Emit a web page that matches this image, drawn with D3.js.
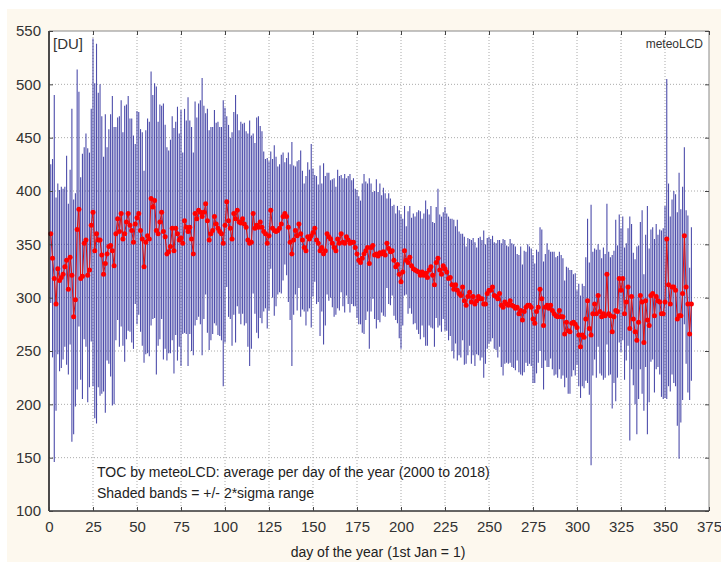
<!DOCTYPE html>
<html>
<head>
<meta charset="utf-8">
<script src="https://cdn.jsdelivr.net/npm/d3@7"></script>
<style>
  body { margin: 0; background: #fff; }
  svg { display: block; font-family: "Liberation Sans", Arial, sans-serif; }
</style>
</head>
<body>
<div id="chart"></div>
<script>
// Mean total ozone column per day of the year [DU], days 1..365
const meanTOC = [
  360, 337, 318, 294, 327, 316, 319, 322, 329, 335,
  308, 338, 321, 282, 298, 364, 383, 318, 320, 351,
  354, 321, 326, 368, 380, 344, 360, 354, 354, 340,
  322, 332, 341, 348, 349, 344, 330, 360, 374, 362,
  379, 355, 360, 371, 379, 368, 363, 352, 369, 375,
  379, 363, 355, 329, 352, 358, 355, 393, 385, 391,
  363, 360, 371, 380, 362, 357, 341, 343, 348, 365,
  344, 365, 360, 354, 356, 351, 372, 366, 362, 366,
  355, 341, 379, 374, 382, 380, 376, 380, 388, 372,
  354, 360, 363, 376, 369, 365, 362, 360, 351, 368,
  390, 372, 365, 355, 379, 374, 382, 371, 370, 374,
  369, 366, 354, 351, 352, 379, 365, 368, 366, 371,
  366, 362, 360, 351, 358, 382, 365, 363, 362, 363,
  365, 369, 376, 379, 376, 366, 352, 341, 354, 363,
  358, 369, 360, 354, 347, 344, 357, 355, 358, 361,
  365, 354, 351, 344, 347, 341, 344, 360, 357, 355,
  351, 347, 344, 355, 351, 360, 352, 351, 357, 354,
  351, 352, 352, 347, 341, 335, 333, 337, 341, 344,
  347, 332, 347, 349, 340, 341, 339, 342, 341, 343,
  340, 351, 346, 343, 344, 335, 329, 331, 322, 315,
  324, 344, 335, 333, 338, 330, 327, 326, 325, 324,
  321, 324, 321, 323, 319, 326, 329, 321, 312, 333,
  337, 326, 322, 330, 327, 324, 318, 319, 312, 308,
  312, 307, 304, 302, 310, 297, 293, 301, 305, 296,
  301, 294, 297, 301, 299, 299, 294, 294, 304, 307,
  307, 310, 302, 301, 299, 304, 293, 291, 296, 294,
  293, 297, 293, 292, 290, 291, 285, 288, 279, 287,
  291, 293, 293, 291, 280, 276, 287, 291, 308, 299,
  274, 291, 293, 290, 293, 288, 285, 283, 282, 288,
  282, 282, 266, 277, 269, 268, 276, 277, 275, 272,
  265, 254, 265, 263, 280, 297, 271, 265, 285, 294,
  285, 302, 287, 282, 285, 283, 322, 285, 283, 268,
  282, 288, 287, 318, 307, 318, 285, 296, 310, 271,
  301, 280, 268, 260, 277, 302, 296, 258, 297, 279,
  274, 302, 304, 283, 301, 297, 296, 285, 285, 296,
  355, 312, 294, 310, 310, 307, 280, 283, 283, 304,
  358, 310, 294, 266, 294
];

// 2*sigma half-width of the shaded band per day [DU]
const twoSigma = [
   65,  93, 172, 100,  80,  85,  85,  80,  75,  98,
   80,  82, 156, 110, 100, 150, 110,  95, 115,  90,
  100, 119, 110, 109, 163, 157, 178, 138, 146, 130,
  110, 140, 100, 110, 123, 145, 130, 100,  95, 108,
  106, 100, 120, 110, 110, 100, 105, 100,  75, 100,
   95,  95, 100,  90, 105, 110, 110, 119, 105, 110,
  135, 105, 110, 100, 120, 105, 100,  95, 100, 105,
  115, 100, 119, 100, 120,  85, 105, 100, 126, 100,
  105,  95, 105,  95, 100, 105, 130, 100,  85, 105,
  103, 100,  97, 100,  95, 100,  98, 100, 134, 110,
   80,  90,  85, 100,  95, 116,  90,  86,  95,  89,
   95,  90, 100, 115, 100,  75,  80, 101, 104,  90,
   90,  75,  70,  80,  70,  55,  65,  80,  70,  60,
   60,  65,  60,  48,  55,  70,  73, 105,  70,  60,
   70,  60,  78,  65,  60,  70,  70,  65,  86,  60,
   50,  60,  55,  80,  60,  85,  70,  57,  60,  55,
   60,  65,  60,  65,  63,  55,  60,  65,  55,  60,
   65,  58,  60,  55,  60,  60,  58,  70,  75,  65,
   60,  80,  60,  50,  60,  70,  60,  65,  55,  60,
   58,  42,  52,  50,  42,  52,  50,  55,  60,  63,
   50,  42,  32,  48,  48,  45,  52,  50,  55,  58,
   60,  50,  58,  68,  64,  52,  57,  50,  58,  52,
   65,  52,  54,  50,  58,  55,  58,  55,  62,  65,
   55,  66,  58,  58,  50,  60,  55,  55,  50,  58,
   55,  58,  50,  55,  58,  55,  69,  56,  52,  50,
   48,  48,  50,  50,  55,  50,  58,  64,  58,  55,
   55,  58,  58,  58,  58,  50,  55,  60,  52,  57,
   52,  57,  55,  55,  60,  56,  58,  52,  58,  65,
   60,  50,  58,  55,  50,  55,  58,  55,  57,  55,
   58,  55,  50,  52,  59,  58,  50,  45,  48,  35,
   48,  48,  48,  48,  58,  77,  62, 122,  58,  52,
   60,  48,  58,  55,  62,  58,  66,  58,  55,  72,
   62,  85,  62,  60,  58,  58,  62,  55,  55, 105,
   68,  62,  68,  88,  72,  69,  86,  64,  62, 107,
   72,  62,  62,  72,  68,  62,  68,  78,  80,  90,
  150,  95,  82,  82,  90,  90, 100, 134, 100, 100,
   83,  72,  83,  62,  72
];

const xTicks = [0, 25, 50, 75, 100, 125, 150, 175, 200, 225, 250, 275, 300, 325, 350, 375];
const yTicks = [100, 150, 200, 250, 300, 350, 400, 450, 500, 550];

const W = 721, H = 562;
const margin = { top: 31, right: 12, bottom: 51, left: 49 };
const width = W - margin.left - margin.right;
const height = H - margin.top - margin.bottom;

const data = meanTOC.map((m, i) => ({ day: i + 1, mean: m, lo: m - twoSigma[i], hi: m + twoSigma[i] }));

const svg = d3.select("#chart").append("svg")
  .attr("width", W).attr("height", H);

// Outer cream panel
svg.append("rect").attr("width", W).attr("height", H).attr("fill", "#fff");
svg.append("rect").attr("x", 7).attr("y", 9).attr("width", W - 7).attr("height", H - 9).attr("fill", "#fdf8ee");

const g = svg.append("g").attr("transform", `translate(${margin.left},${margin.top})`);

const x = d3.scaleLinear().domain([0, 375]).range([0, width]);
const y = d3.scaleLinear().domain([100, 550]).range([height, 0]);

// Plot background
g.append("rect").attr("width", width).attr("height", height).attr("fill", "#fff");

// Dotted grid
g.append("g").selectAll("line").data(xTicks.slice(1, -1)).join("line")
  .attr("x1", d => x(d)).attr("x2", d => x(d))
  .attr("y1", 0).attr("y2", height)
  .attr("stroke", "#aaa").attr("stroke-dasharray", "1,2");
g.append("g").selectAll("line").data(yTicks.slice(1, -1)).join("line")
  .attr("x1", 0).attr("x2", width)
  .attr("y1", d => y(d)).attr("y2", d => y(d))
  .attr("stroke", "#aaa").attr("stroke-dasharray", "1,2");

// Shaded bands: one vertical line per day
g.append("g").selectAll("line").data(data).join("line")
  .attr("x1", d => x(d.day)).attr("x2", d => x(d.day))
  .attr("y1", d => y(d.lo)).attr("y2", d => y(d.hi))
  .attr("stroke", "#2e2e9c").attr("stroke-width", 1.1).attr("stroke-opacity", 0.85);

// Mean line and dots
g.append("path").datum(data)
  .attr("fill", "none").attr("stroke", "#e01010").attr("stroke-width", 1)
  .attr("d", d3.line().x(d => x(d.day)).y(d => y(d.mean)));
g.append("g").selectAll("circle").data(data).join("circle")
  .attr("cx", d => x(d.day)).attr("cy", d => y(d.mean)).attr("r", 2.5)
  .attr("fill", "#ff0000");

// Frame: dark left/bottom, grey top/right
g.append("line").attr("x1", 0).attr("x2", width).attr("y1", 0).attr("y2", 0).attr("stroke", "#888");
g.append("line").attr("x1", width).attr("x2", width).attr("y1", 0).attr("y2", height).attr("stroke", "#888");
g.append("line").attr("x1", 0).attr("x2", 0).attr("y1", 0).attr("y2", height).attr("stroke", "#111").attr("stroke-width", 1.5);
g.append("line").attr("x1", 0).attr("x2", width).attr("y1", height).attr("y2", height).attr("stroke", "#333").attr("stroke-width", 1.5);

// Axes with inward ticks
const xAxis = g.append("g").attr("transform", `translate(0,${height})`)
  .call(d3.axisBottom(x).tickValues(xTicks).tickSizeInner(-4).tickSizeOuter(0).tickPadding(10));
const yAxis = g.append("g")
  .call(d3.axisLeft(y).tickValues(yTicks).tickSizeInner(-4).tickSizeOuter(0).tickPadding(8));
g.append("g").call(d3.axisTop(x).tickValues(xTicks).tickSizeInner(-4).tickSizeOuter(0).tickFormat(""));
g.append("g").attr("transform", `translate(${width},0)`)
  .call(d3.axisRight(y).tickValues(yTicks).tickSizeInner(-4).tickSizeOuter(0).tickFormat(""));

g.selectAll(".domain").remove();
g.selectAll(".tick line").attr("stroke", "#444");
[xAxis, yAxis].forEach(a => a.selectAll("text")
  .attr("font-size", 15).attr("fill", "#333")
  .style("font-family", "'Liberation Sans', Arial, sans-serif"));

// Texts
g.append("text").attr("x", 4).attr("y", 18).attr("font-size", 15).attr("fill", "#333").text("[DU]");
g.append("text").attr("x", width - 6).attr("y", 17).attr("text-anchor", "end")
  .attr("font-size", 12).attr("fill", "#333").text("meteoLCD");
g.append("text").attr("x", 48).attr("y", 446).attr("font-size", 14).attr("fill", "#222")
  .text("TOC by meteoLCD: average per day of the year (2000 to 2018)");
g.append("text").attr("x", 48).attr("y", 467).attr("font-size", 14).attr("fill", "#222")
  .text("Shaded bands = +/- 2*sigma range");

svg.append("text").attr("x", 378).attr("y", 557).attr("text-anchor", "middle")
  .attr("font-size", 14).attr("fill", "#222").text("day of the year (1st Jan = 1)");
</script>
</body>
</html>
